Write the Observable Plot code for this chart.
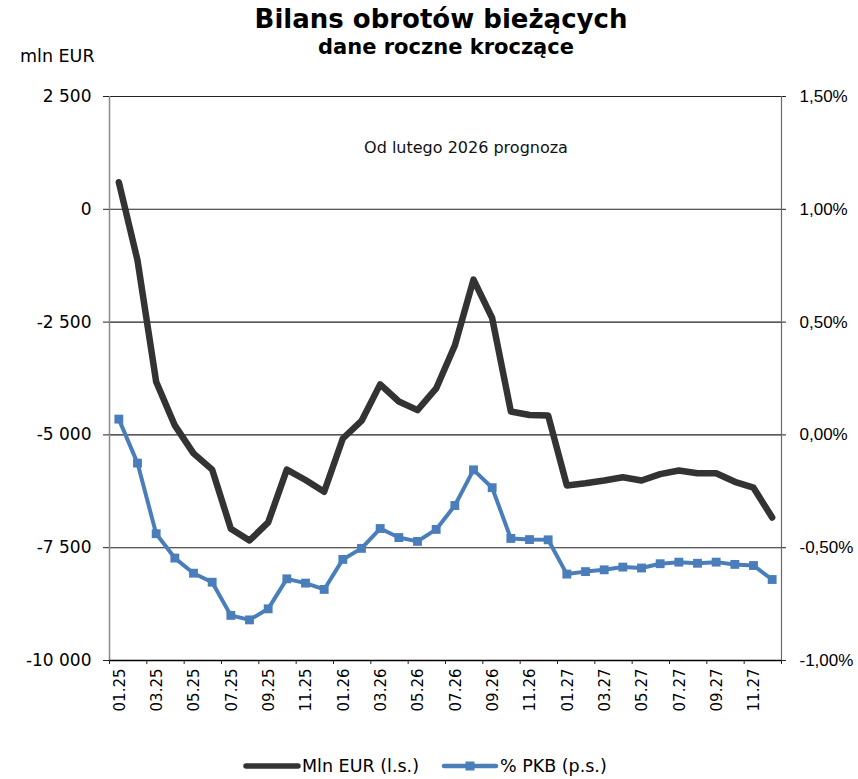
<!DOCTYPE html>
<html>
<head>
<meta charset="utf-8">
<script src="https://cdn.jsdelivr.net/npm/d3@7"></script>
<script src="https://cdn.jsdelivr.net/npm/@observablehq/plot@0.6"></script>
<style>
  html, body { margin: 0; padding: 0; background: #fff; }
  #wrap { position: relative; width: 858px; height: 779px; font-family: "DejaVu Sans", Verdana, sans-serif; color: #000; }
  #wrap > svg { position: absolute; left: 0; top: 0; }
  .abs { position: absolute; white-space: nowrap; }
  #title { left: 0; width: 882px; text-align: center; top: 6px; font-size: 26px; font-weight: bold; line-height: 27px; }
  #subtitle { left: 0; width: 892px; text-align: center; top: 37px; font-size: 21px; font-weight: bold; line-height: 21px; }
  #unit { left: 20px; top: 47px; font-size: 17.5px; line-height: 18px; }
  #note { left: 0; width: 932px; text-align: center; top: 140px; font-size: 16px; line-height: 16px; color: #111; }
  #legend { left: 243px; top: 756px; height: 20px; display: flex; align-items: center; font-size: 17.5px; line-height: 20px; }
  #legend .item { display: flex; align-items: center; }
</style>
</head>
<body>
<div id="wrap">
  <div id="title" class="abs">Bilans obrotów bieżących</div>
  <div id="subtitle" class="abs">dane roczne kroczące</div>
  <div id="unit" class="abs">mln EUR</div>
  <div id="note" class="abs">Od lutego 2026 prognoza</div>
  <div id="legend" class="abs"></div>
</div>
<script>
// ---- data ----
const months = [
  "01.25","02.25","03.25","04.25","05.25","06.25","07.25","08.25","09.25","10.25","11.25","12.25",
  "01.26","02.26","03.26","04.26","05.26","06.26","07.26","08.26","09.26","10.26","11.26","12.26",
  "01.27","02.27","03.27","04.27","05.27","06.27","07.27","08.27","09.27","10.27","11.27","12.27"
];
const mlnEur = [
  600, -1130, -3820, -4790, -5410, -5770, -7080, -7340, -6940, -5770, -6000, -6260,
  -5080, -4690, -3880, -4260, -4450, -3970, -3020, -1560, -2410, -4480, -4560, -4570,
  -6120, -6070, -6010, -5940, -6010, -5870, -5790, -5850, -5850, -6040, -6170, -6830
];
const pctPkb = [
  0.07, -0.125, -0.438, -0.546, -0.613, -0.653, -0.800, -0.820, -0.771, -0.638, -0.657, -0.685,
  -0.552, -0.503, -0.415, -0.455, -0.472, -0.419, -0.313, -0.155, -0.234, -0.459, -0.464, -0.465,
  -0.617, -0.606, -0.598, -0.586, -0.590, -0.571, -0.564, -0.569, -0.564, -0.574, -0.579, -0.641
];
const leftTicks = [2500, 0, -2500, -5000, -7500, -10000];
const rightTicks = [1.5, 1.0, 0.5, 0, -0.5, -1.0];
const seriesNames = ["Mln EUR (l.s.)", "% PKB (p.s.)"];

// ---- helpers ----
const pctToLeft = p => (p - 1) * 5000;           // right axis 1.50%..-1.00% ↔ left 2500..-10000
const leftToPct = v => v / 5000 + 1;
const fmtLeft = d => d === 0 ? "0" : (d < 0 ? "-" : "") + d3.format(",")(Math.abs(d)).replace(/,/g, " ");
const fmtRight = d => {
  const p = leftToPct(d);
  const s = Math.abs(p).toFixed(2).replace(".", ",") + "%";
  return (p < -1e-9 ? "-" : "") + s;
};

const blackData = months.map((m, i) => ({x: i + 0.5, y: mlnEur[i]}));
const blueData = months.map((m, i) => ({x: i + 0.5, y: pctToLeft(pctPkb[i])}));
const labelPos = months.map((m, i) => i + 0.5).filter((d, i) => i % 2 === 0);
const boundaryTicks = d3.range(0, months.length + 1, 2);
const rightTicksLeft = rightTicks.map(pctToLeft);

const BLACK = "#333333";
const BLUE = "#4A7EBB";

const chart = Plot.plot({
  width: 858,
  height: 779,
  marginTop: 96,
  marginLeft: 109,
  marginRight: 77,
  marginBottom: 119,
  style: {background: "transparent", overflow: "visible"},
  x: {type: "linear", domain: [0, months.length]},
  y: {domain: [-10000, 2500]},
  marks: [
    Plot.ruleY(leftTicks, {stroke: "#222", strokeWidth: 1.1}),
    Plot.ruleX([0], {stroke: "#8a8a8a", strokeWidth: 1.5}),
    Plot.ruleX([months.length], {stroke: "#6a6a6a", strokeWidth: 1.2}),
    Plot.ruleY([-10000], {stroke: "#000", strokeWidth: 1.3}),
    Plot.axisY({
      anchor: "left", ticks: leftTicks, tickFormat: fmtLeft, tickSize: 6, tickPadding: 12,
      fontSize: 17, fontFamily: "DejaVu Sans", label: null, stroke: "#222"
    }),
    Plot.axisY({
      anchor: "right", ticks: rightTicksLeft, tickFormat: fmtRight, tickSize: 4, tickPadding: 14,
      fontSize: 17, fontFamily: "Liberation Sans", label: null, stroke: "#222"
    }),
    Plot.axisX({
      anchor: "bottom", ticks: boundaryTicks, tickFormat: () => "", tickSize: 4, label: null, stroke: "#222"
    }),
    Plot.axisX({
      anchor: "bottom", ticks: labelPos, tickFormat: d => months[Math.round(d - 0.5)], tickSize: 0,
      tickPadding: 8, tickRotate: -90, fontSize: 15, fontFamily: "DejaVu Sans", label: null, dx: 1
    }),
    Plot.line(blueData, {x: "x", y: "y", stroke: BLUE, strokeWidth: 4, strokeLinejoin: "round"}),
    Plot.dot(blueData, {x: "x", y: "y", symbol: "square", r: 5, fill: BLUE, stroke: "none"}),
    Plot.line(blackData, {x: "x", y: "y", stroke: BLACK, strokeWidth: 6.5, strokeLinejoin: "round", strokeLinecap: "round"})
  ]
});

document.getElementById("wrap").prepend(chart);

// legend
const legend = document.getElementById("legend");
const mk = (name, color, marker, width) => {
  const item = document.createElement("div");
  item.className = "item";
  const ns = "http://www.w3.org/2000/svg";
  const s = document.createElementNS(ns, "svg");
  s.setAttribute("width", 58); s.setAttribute("height", 20);
  const l = document.createElementNS(ns, "line");
  l.setAttribute("x1", 3); l.setAttribute("x2", 55); l.setAttribute("y1", 10); l.setAttribute("y2", 10);
  l.setAttribute("stroke", color); l.setAttribute("stroke-width", width); l.setAttribute("stroke-linecap", "round");
  s.appendChild(l);
  if (marker) {
    const r = document.createElementNS(ns, "rect");
    r.setAttribute("x", 24.5); r.setAttribute("y", 5.5); r.setAttribute("width", 9); r.setAttribute("height", 9);
    r.setAttribute("fill", color);
    s.appendChild(r);
  }
  item.appendChild(s);
  const t = document.createElement("span");
  t.textContent = name;
  t.style.marginLeft = "1px";
  item.appendChild(t);
  return item;
};
const a = mk(seriesNames[0], BLACK, false, 5.5);
const b = mk(seriesNames[1], BLUE, true, 4.5);
b.style.marginLeft = "22px";
legend.appendChild(a);
legend.appendChild(b);
</script>
</body>
</html>
